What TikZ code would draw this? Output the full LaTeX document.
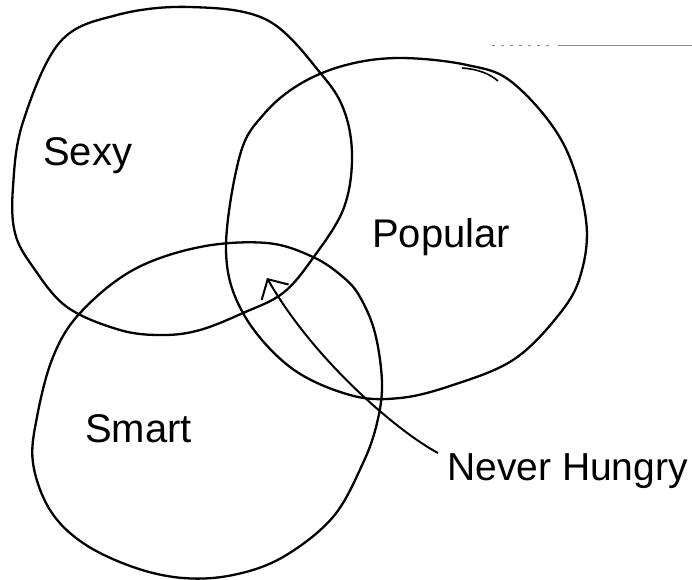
\documentclass[tikz,border=0pt]{standalone}
\usepackage{fontspec}
\setmainfont{Liberation Sans}
\usetikzlibrary{arrows.meta}
\tikzset{
  ring/.style={draw=black, line width=2.3pt, line join=round},
  lbl/.style={anchor=base west, inner sep=0pt, font=\fontsize{40}{48}\selectfont},
  pointer/.style={draw=black, line width=2pt, -{Straight Barb[length=15pt,width=31pt,line width=2pt]}},
  scan/.style={draw=black!45, line width=0.8pt}
}
\begin{document}
\begin{tikzpicture}[x=1pt,y=-1pt]
\useasboundingbox[fill=white] (0,0) rectangle (692,579);
% faint scan line at top right
\draw[scan, dash pattern=on 3pt off 6pt] (492,45) -- (555,45);
\draw[scan] (558,45) -- (692,45);
% Sexy
\draw[ring] plot[smooth cycle, tension=0.6] coordinates {
  (190,7) (267,20) (322,75) (345,113) (352,160) (343,210) (313,258)
  (283,293) (243,313) (200,330) (163,335) (120,330) (67,307) (33,267)
  (15,233) (13,187) (23,122) (60,42) (117,15)};
% Popular
\draw[ring] plot[smooth cycle, tension=0.6] coordinates {
  (240,155) (264,114) (300,84) (346,65) (400,58) (467,65) (513,83)
  (563,143) (586,220) (580,277) (557,317) (513,360) (453,385) (400,398)
  (350,395) (290,367) (243,313) (226,250)};
% second stroke on Popular top
\draw[ring, line width=1.6pt] (462,68) .. controls (478,69) and (490,74) .. (498,81);
% Smart
\draw[ring] plot[smooth cycle, tension=0.6] coordinates {
  (200,247) (267,243) (313,257) (343,277) (360,297) (375,333) (382,383)
  (377,423) (363,463) (333,517) (283,557) (233,575) (183,578) (133,567)
  (83,543) (50,510) (33,463) (37,417) (53,357) (80,313) (133,270)};
% labels
\node[lbl] (sexy) at (43,165) {Sexy};
\node[lbl] (popular) at (372,247) {Popular};
\node[lbl] (smart) at (85,442) {Smart};
\node[lbl, font=\fontsize{39}{46}\selectfont] (never) at (447,480) {Never Hungry};
% pointer
\coordinate (tail) at (438,453);
\coordinate (tip) at (267,278);
\draw[pointer] (tail) .. controls (400,433) and (315,362) .. (tip);
\end{tikzpicture}
\end{document}
